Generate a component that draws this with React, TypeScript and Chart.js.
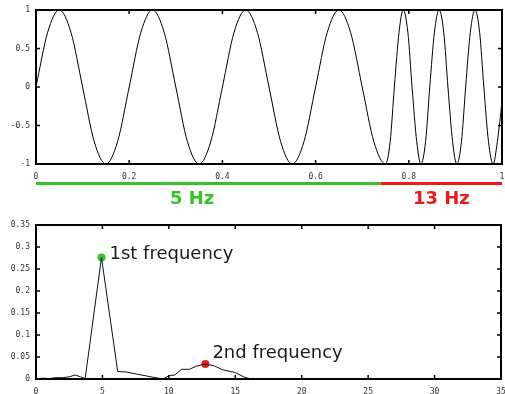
import React, { useEffect, useRef } from "react";
import { Chart, registerables } from "chart.js";

Chart.register(...registerables);

// ---- top panel: time signal (extrema, zero crossings, mid levels)
const signalTimes = [
  0, 0.025, 0.05, 0.075, 0.1, 0.125, 0.15, 0.175,
  0.2, 0.225, 0.25, 0.275, 0.3, 0.325, 0.35, 0.375,
  0.4, 0.425, 0.45, 0.475, 0.5, 0.525, 0.55, 0.575,
  0.6, 0.625, 0.65, 0.675, 0.7, 0.725, 0.75,
  0.76, 0.769, 0.779, 0.788, 0.798, 0.807, 0.817, 0.826, 0.836, 0.845, 0.855, 0.865,
  0.875, 0.884, 0.894, 0.903, 0.913, 0.922, 0.932, 0.942, 0.952, 0.961, 0.971, 0.981, 0.99, 1.0,
];
const signalValues = [
  0, 0.71, 1, 0.71, 0, -0.71, -1, -0.71,
  0, 0.71, 1, 0.71, 0, -0.71, -1, -0.71,
  0, 0.71, 1, 0.71, 0, -0.71, -1, -0.71,
  0, 0.71, 1, 0.71, 0, -0.71, -1,
  -0.71, 0, 0.71, 1, 0.71, 0, -0.71, -1, -0.71, 0, 0.71, 1,
  0.71, 0, -0.71, -1, -0.71, 0, 0.71, 1, 0.71, 0, -0.71, -1, -0.71, -0.2,
];

const topXTicks = [0, 0.2, 0.4, 0.6, 0.8, 1];
const topYTicks = [-1, -0.5, 0, 0.5, 1];

const bandStarts = [0, 0.74];
const bandEnds = [0.74, 1];
const bandLabels = ["5 Hz", "13 Hz"];
const bandColors = ["#33c326", "#ee1a1a"];

// ---- bottom panel: spectrum
const spectrumFreqs = [
  0, 0.5, 1.0, 1.5, 2.0, 2.5, 2.95, 3.35, 3.7, 4.93, 6.15, 6.8, 7.6, 8.3, 8.8, 9.55,
  10.05, 10.45, 10.95, 11.55, 12.05, 12.75, 13.4, 14.05, 14.95, 15.7, 16.2,
];
const spectrumMags = [
  0, 0.002, 0.001, 0.003, 0.003, 0.005, 0.009, 0.005, 0.001, 0.276, 0.017, 0.016, 0.011, 0.007, 0.004, 0,
  0.008, 0.009, 0.022, 0.022, 0.029, 0.034, 0.03, 0.021, 0.015, 0.004, 0,
];

const peakFreqs = [4.93, 12.75];
const peakMags = [0.276, 0.034];
const peakLabels = ["1st frequency", "2nd frequency"];
const peakColors = ["#33c326", "#ee1a1a"];

const bottomXTicks = [0, 5, 10, 15, 20, 25, 30, 35];
const bottomYTicks = [0, 0.05, 0.1, 0.15, 0.2, 0.25, 0.3, 0.35];

const tickFont = { family: "DejaVu Sans Mono", size: 8 };
const tickColor = "#333";

const framePlugin = {
  id: "frame",
  afterDatasetsDraw(chart: any, _args: any, opts: any) {
    const { ctx, chartArea } = chart;
    const { left, right, top, bottom } = chartArea;
    const xs = chart.scales.x;
    const ys = chart.scales.y;
    ctx.save();
    ctx.strokeStyle = "#000";
    ctx.lineWidth = 1.5;
    const len = 4;
    ctx.beginPath();
    (opts.xTicks as number[]).forEach((v) => {
      const px = xs.getPixelForValue(v);
      ctx.moveTo(px, bottom);
      ctx.lineTo(px, bottom - len);
      ctx.moveTo(px, top);
      ctx.lineTo(px, top + len);
    });
    (opts.yTicks as number[]).forEach((v) => {
      const py = ys.getPixelForValue(v);
      ctx.moveTo(left, py);
      ctx.lineTo(left + len, py);
      ctx.moveTo(right, py);
      ctx.lineTo(right - len, py);
    });
    ctx.stroke();
    ctx.lineWidth = 2;
    ctx.strokeRect(left, top, right - left, bottom - top);
    ctx.restore();
  },
};

const bandPlugin = {
  id: "bands",
  afterDraw(chart: any, _args: any, opts: any) {
    if (!opts || !opts.enabled) return;
    const { ctx, chartArea } = chart;
    const xs = chart.scales.x;
    ctx.save();
    const barY = chartArea.bottom + 18;
    bandStarts.forEach((s, i) => {
      const x0 = xs.getPixelForValue(s);
      const x1 = xs.getPixelForValue(bandEnds[i]);
      ctx.fillStyle = bandColors[i];
      ctx.fillRect(x0, barY, x1 - x0, 3);
      ctx.font = "bold 18px 'DejaVu Sans'";
      ctx.textAlign = "center";
      ctx.textBaseline = "alphabetic";
      ctx.fillText(bandLabels[i], xs.getPixelForValue(opts.labelAt[i]), chartArea.bottom + 40);
    });
    ctx.restore();
  },
};

const peakLabelPlugin = {
  id: "peakLabels",
  afterDraw(chart: any, _args: any, opts: any) {
    if (!opts || !opts.enabled) return;
    const { ctx } = chart;
    const xs = chart.scales.x;
    const ys = chart.scales.y;
    ctx.save();
    ctx.font = "18px 'DejaVu Sans'";
    ctx.fillStyle = "#1a1a1a";
    ctx.textAlign = "left";
    ctx.textBaseline = "alphabetic";
    peakLabels.forEach((t, i) => {
      const px = xs.getPixelForValue(peakFreqs[i]);
      const py = ys.getPixelForValue(peakMags[i]);
      ctx.fillText(t, px + opts.offsets[i][0], py + opts.offsets[i][1]);
    });
    ctx.restore();
  },
};

function axis(min: number, max: number, ticks: number[], isX: boolean, size: number, padding: number) {
  return {
    type: "linear",
    min,
    max,
    grid: { display: false, drawTicks: false, tickLength: 0 },
    border: { display: false },
    afterBuildTicks: (s: any) => {
      s.ticks = ticks.map((v) => ({ value: v }));
    },
    afterFit: (s: any) => {
      if (isX) {
        s.height = size;
        s.paddingLeft = 0;
        s.paddingRight = 0;
      } else {
        s.width = size;
        s.paddingTop = 0;
        s.paddingBottom = 0;
      }
    },
    ticks: {
      font: tickFont,
      color: tickColor,
      padding,
      autoSkip: false,
      maxRotation: 0,
      minRotation: 0,
      callback: (v: any) => String(v),
    },
  };
}

export default function App() {
  const topRef = useRef<HTMLCanvasElement>(null);
  const botRef = useRef<HTMLCanvasElement>(null);

  useEffect(() => {
    const top = new Chart(topRef.current as HTMLCanvasElement, {
      type: "line",
      data: {
        datasets: [
          {
            data: signalTimes.map((t, i) => ({ x: t, y: signalValues[i] })),
            borderColor: "#000",
            borderWidth: 1,
            pointRadius: 0,
            cubicInterpolationMode: "monotone",
          } as any,
        ],
      },
      options: {
        responsive: false,
        animation: false,
        devicePixelRatio: 1,
        layout: { padding: { top: 10, right: 3, left: 0, bottom: 0 } },
        scales: {
          x: axis(0, 1, topXTicks, true, 46, 8) as any,
          y: axis(-1, 1, topYTicks, false, 36, 6) as any,
        },
        plugins: {
          legend: { display: false },
          tooltip: { enabled: false },
          frame: { xTicks: topXTicks, yTicks: topYTicks },
          bands: { enabled: true, labelAt: [0.335, 0.87] },
        } as any,
      },
      plugins: [framePlugin, bandPlugin],
    });

    const bot = new Chart(botRef.current as HTMLCanvasElement, {
      type: "line",
      data: {
        datasets: [
          {
            data: spectrumFreqs.map((f, i) => ({ x: f, y: spectrumMags[i] })),
            borderColor: "#111",
            borderWidth: 1,
            pointRadius: 0,
            tension: 0,
          } as any,
          {
            type: "scatter",
            data: peakFreqs.map((f, i) => ({ x: f, y: peakMags[i] })),
            pointRadius: 4,
            pointBackgroundColor: peakColors,
            pointBorderWidth: 0,
            showLine: false,
          } as any,
        ],
      },
      options: {
        responsive: false,
        animation: false,
        devicePixelRatio: 1,
        layout: { padding: { top: 15, right: 3, left: 0, bottom: 0 } },
        scales: {
          x: axis(0, 35, bottomXTicks, true, 15, 8) as any,
          y: axis(0, 0.35, bottomYTicks, false, 36, 6) as any,
        },
        plugins: {
          legend: { display: false },
          tooltip: { enabled: false },
          frame: { xTicks: bottomXTicks, yTicks: bottomYTicks },
          peakLabels: { enabled: true, offsets: [[8, 1], [7, -6]] },
        } as any,
      },
      plugins: [framePlugin, peakLabelPlugin],
    });

    return () => {
      top.destroy();
      bot.destroy();
    };
  }, []);

  return (
    <div style={{ position: "absolute", left: 0, top: 0, width: 505, height: 394, background: "#fff" }}>
      <div style={{ position: "absolute", left: 0, top: 0, width: 505, height: 210 }}>
        <canvas ref={topRef} width={505} height={210} style={{ display: "block" }} />
      </div>
      <div style={{ position: "absolute", left: 0, top: 210, width: 505, height: 184 }}>
        <canvas ref={botRef} width={505} height={184} style={{ display: "block" }} />
      </div>
    </div>
  );
}
